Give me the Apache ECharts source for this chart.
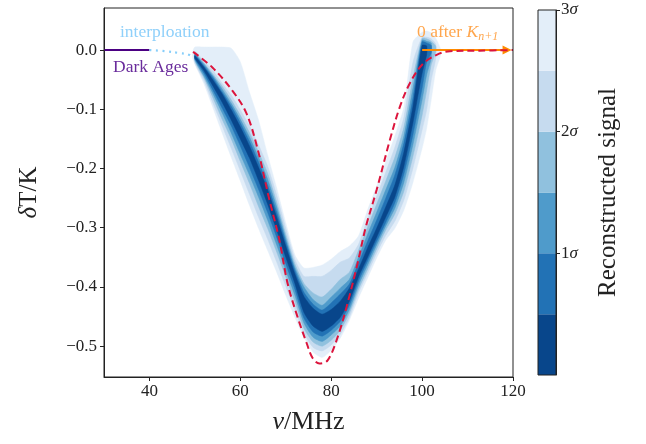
<!DOCTYPE html>
<html>
<head>
<meta charset="utf-8">
<script src="https://cdn.jsdelivr.net/npm/echarts@6.0.0/dist/echarts.min.js"></script>
<style>
  html, body { margin: 0; padding: 0; background: #fff; }
  #main { width: 646px; height: 444px; }
</style>
</head>
<body>
<div id="main"></div>
<script>
// frequency grid (MHz) on which the contour bands are sampled
var xs = [49.5, 50, 52, 54, 56, 58, 60, 62, 64, 66, 68, 70, 72, 74, 76, 78, 80, 82, 84, 86, 88, 90, 92, 94, 96, 98, 100, 101, 102, 103, 104];

// contour bands: upper / lower edge of each level (3 sigma -> 0.5 sigma)
var l6Hi = [-0.003, 0.005, 0.005, 0.005, 0.005, 0.003, -0.020, -0.071, -0.118, -0.177, -0.233, -0.292, -0.346, -0.368, -0.367, -0.363, -0.353, -0.340, -0.331, -0.314, -0.270, -0.230, -0.188, -0.145, -0.096, 0.014, 0.030, 0.032, 0.029, 0.020, 0.003];
var l6Lo = [-0.014, -0.024, -0.057, -0.098, -0.140, -0.181, -0.221, -0.262, -0.301, -0.338, -0.375, -0.414, -0.451, -0.485, -0.510, -0.519, -0.507, -0.486, -0.456, -0.419, -0.385, -0.351, -0.321, -0.301, -0.270, -0.223, -0.166, -0.132, -0.084, -0.034, -0.010];
var l5Hi = [null, -0.002, -0.019, -0.035, -0.056, -0.076, -0.101, -0.128, -0.160, -0.196, -0.245, -0.301, -0.353, -0.382, -0.382, -0.382, -0.372, -0.358, -0.351, -0.328, -0.285, -0.247, -0.206, -0.164, -0.113, -0.020, 0.022, 0.022, 0.019, 0.010, null];
var l5Lo = [null, -0.022, -0.052, -0.090, -0.128, -0.166, -0.204, -0.243, -0.282, -0.319, -0.358, -0.399, -0.438, -0.478, -0.502, -0.508, -0.498, -0.480, -0.451, -0.410, -0.377, -0.343, -0.313, -0.289, -0.253, -0.199, -0.135, -0.101, -0.051, -0.014, null];
var l4Hi = [null, -0.005, -0.022, -0.041, -0.061, -0.084, -0.110, -0.139, -0.172, -0.208, -0.257, -0.311, -0.361, -0.394, -0.410, -0.417, -0.404, -0.387, -0.375, -0.338, -0.299, -0.260, -0.221, -0.181, -0.130, -0.047, 0.020, 0.019, 0.015, 0.007, null];
var l4Lo = [null, -0.019, -0.047, -0.081, -0.117, -0.150, -0.188, -0.225, -0.264, -0.301, -0.341, -0.383, -0.424, -0.470, -0.493, -0.500, -0.490, -0.473, -0.444, -0.404, -0.370, -0.336, -0.304, -0.277, -0.238, -0.179, -0.110, -0.068, -0.025, -0.003, null];
var l3Hi = [null, -0.007, -0.024, -0.044, -0.066, -0.090, -0.117, -0.147, -0.181, -0.218, -0.265, -0.318, -0.367, -0.400, -0.421, -0.431, -0.417, -0.402, -0.387, -0.350, -0.311, -0.274, -0.236, -0.198, -0.145, -0.064, 0.017, 0.015, 0.012, null, null];
var l3Lo = [null, -0.017, -0.044, -0.074, -0.106, -0.140, -0.176, -0.211, -0.248, -0.287, -0.329, -0.372, -0.414, -0.461, -0.485, -0.492, -0.481, -0.466, -0.438, -0.397, -0.363, -0.329, -0.297, -0.267, -0.223, -0.159, -0.084, -0.042, -0.014, null, null];
var l2Hi = [null, -0.008, -0.027, -0.047, -0.071, -0.095, -0.123, -0.154, -0.189, -0.228, -0.274, -0.324, -0.372, -0.409, -0.429, -0.439, -0.427, -0.412, -0.395, -0.360, -0.323, -0.287, -0.250, -0.211, -0.157, -0.081, 0.014, 0.012, 0.008, null, null];
var l2Lo = [null, -0.015, -0.039, -0.068, -0.098, -0.128, -0.162, -0.198, -0.235, -0.274, -0.316, -0.361, -0.404, -0.453, -0.476, -0.483, -0.473, -0.458, -0.431, -0.390, -0.356, -0.323, -0.291, -0.258, -0.209, -0.142, -0.064, -0.020, -0.005, null, null];
var l1Hi = [null, -0.010, -0.029, -0.051, -0.074, -0.101, -0.130, -0.162, -0.198, -0.236, -0.282, -0.331, -0.378, -0.416, -0.436, -0.446, -0.438, -0.424, -0.402, -0.370, -0.334, -0.301, -0.265, -0.228, -0.172, -0.095, 0.008, 0.007, null, null, null];
var l1Lo = [null, -0.014, -0.035, -0.061, -0.088, -0.118, -0.150, -0.182, -0.220, -0.260, -0.304, -0.350, -0.394, -0.443, -0.466, -0.475, -0.466, -0.451, -0.424, -0.383, -0.350, -0.316, -0.282, -0.248, -0.196, -0.122, -0.039, -0.008, null, null, null];

// true signal (red dashed)
var trueX = [49.6, 53.8, 58.2, 61.3, 63.7, 66.4, 68.6, 70.4, 72.6, 74.6, 75.9, 77.4, 79.2, 81.4, 83.6, 85.8, 87.6, 90.0, 92.9, 95.1, 97.3, 100.1, 103.2, 106.1, 112.7, 120];
var trueY = [-0.003, -0.029, -0.068, -0.106, -0.164, -0.253, -0.321, -0.394, -0.451, -0.495, -0.520, -0.529, -0.524, -0.485, -0.427, -0.360, -0.299, -0.236, -0.152, -0.096, -0.056, -0.024, -0.008, -0.002, -0.001, 0];

// dark ages, interpolation, zero after K_{n+1}
var darkX = [30, 40];
var darkY = [0, 0];
var interpX = [40, 43.7, 46.5, 48.7, 49.6];
var interpY = [0, -0.002, -0.005, -0.008, -0.013];
var zeroX = [100, 118.7];
var zeroY = [0, 0];

// tick values
var xTicks = [40, 60, 80, 100, 120];
var yTicks = [-0.5, -0.4, -0.3, -0.2, -0.1, 0];
var cbEdges = [0, 0.5, 1, 1.5, 2, 2.5, 3];
var cbTicks = [1, 2, 3];

var blues = ['#08468b', '#2272b5', '#4f9bcb', '#90c1de', '#c6dbef', '#e3eef9'];
var levels = [
  { hi: l1Hi, lo: l1Lo }, { hi: l2Hi, lo: l2Lo }, { hi: l3Hi, lo: l3Lo },
  { hi: l4Hi, lo: l4Lo }, { hi: l5Hi, lo: l5Lo }, { hi: l6Hi, lo: l6Lo }
];
var serif = 'Liberation Serif';

function zip(a, b) {
  return a.map(function (v, i) { return [v, b[i]]; });
}

//一个填充等值带
function bandSeries(k) {
  var lv = levels[k];
  return {
    type: 'custom',
    silent: true,
    z: 8 - k,
    data: [[xs[1], lv.hi[1]]],
    renderItem: function (params, api) {
      var top = [], bot = [];
      for (var i = 0; i < xs.length; i++) {
        if (lv.hi[i] == null) continue;
        top.push(api.coord([xs[i], lv.hi[i]]));
        bot.push(api.coord([xs[i], lv.lo[i]]));
      }
      return {
        type: 'polygon',
        shape: { points: top.concat(bot.reverse()), smooth: 0.2 },
        style: { fill: blues[k], stroke: blues[k], lineWidth: 0.5 }
      };
    }
  };
}

var series = [];
for (var k = 5; k >= 0; k--) series.push(bandSeries(k));

series.push({
  type: 'line', data: zip(darkX, darkY), symbol: 'none', z: 12,
  lineStyle: { color: '#4b0082', width: 2 }
});
series.push({
  type: 'line', data: zip(interpX, interpY), symbol: 'none', smooth: 0.4, z: 12,
  lineStyle: { color: '#87cefa', width: 2.2, type: [2, 4.5] }
});
series.push({
  type: 'lines', coordinateSystem: 'cartesian2d', z: 12,
  data: [{ coords: zip(zeroX, zeroY) }],
  symbol: ['none', 'triangle'], symbolSize: [8, 9],
  lineStyle: { color: '#ff8c00', width: 2, opacity: 1 }
});
series.push({
  type: 'line', data: zip(trueX, trueY), symbol: 'none', smooth: 0.35, z: 14,
  lineStyle: { color: '#dc143c', width: 2, type: [7, 4] }
});

// colorbar
for (var c = 0; c < 6; c++) {
  series.push({
    type: 'bar', xAxisIndex: 1, yAxisIndex: 1, stack: 'cb', barWidth: '100%',
    silent: true, data: [cbEdges[c + 1] - cbEdges[c]],
    itemStyle: { color: blues[c] }
  });
}

var option = {
  animation: false,
  textStyle: { fontFamily: serif },
  grid: [
    { left: 104, right: 133, top: 8, bottom: 67, show: true, borderColor: '#222', borderWidth: 1, z: 20 },
    { left: 538, right: 90, top: 10, bottom: 69, show: true, borderColor: '#222', borderWidth: 1, z: 20 }
  ],
  xAxis: [
    {
      type: 'value', min: 30, max: 120,
      name: '{i|ν}/MHz', nameLocation: 'middle', nameGap: 32,
      nameTextStyle: { fontFamily: serif, fontSize: 26, color: '#222', rich: { i: { fontStyle: 'italic', fontSize: 26, fontFamily: serif } } },
      axisLine: { onZero: false, lineStyle: { color: '#222' } },
      axisTick: { customValues: xTicks, length: 4, lineStyle: { color: '#222' } },
      axisLabel: { customValues: xTicks, fontSize: 17, color: '#222', margin: 6, fontFamily: serif },
      splitLine: { show: false }
    },
    { type: 'category', gridIndex: 1, data: ['cb'], show: false }
  ],
  yAxis: [
    {
      type: 'value', min: -0.552, max: 0.071,
      name: '{i|δ}T/K', nameLocation: 'middle', nameGap: 62,
      nameTextStyle: { fontFamily: serif, fontSize: 25, color: '#222', rich: { i: { fontStyle: 'italic', fontSize: 25, fontFamily: serif } } },
      axisLine: { show: true, onZero: false, lineStyle: { color: '#222' } },
      axisTick: { show: true, customValues: yTicks, length: 4, lineStyle: { color: '#222' } },
      axisLabel: {
        customValues: yTicks, fontSize: 17, color: '#222', margin: 7, fontFamily: serif,
        formatter: function (v) { return v === 0 ? '0.0' : '\u2212' + Math.abs(v).toFixed(1); }
      },
      splitLine: { show: false }
    },
    {
      type: 'value', gridIndex: 1, min: 0, max: 3, position: 'right',
      name: 'Reconstructed signal', nameLocation: 'middle', nameRotate: 90, nameGap: 40,
      nameTextStyle: { fontFamily: serif, fontSize: 25, color: '#222' },
      axisLine: { show: true, lineStyle: { color: '#222' } },
      axisTick: { show: true, customValues: cbTicks, length: 4, lineStyle: { color: '#222' } },
      axisLabel: {
        customValues: cbTicks, fontSize: 17, color: '#222', margin: 5, fontFamily: serif,
        formatter: function (v) { return v + '{s|σ}'; },
        rich: { s: { fontStyle: 'italic', fontSize: 17, fontFamily: serif } }
      },
      splitLine: { show: false }
    }
  ],
  graphic: [
    { type: 'text', x: 120, y: 23, z: 30, style: { text: 'interploation', fill: '#8fd0fa', fontSize: 17.5, fontFamily: serif } },
    { type: 'text', x: 113, y: 58, z: 30, style: { text: 'Dark Ages', fill: '#6a2c9c', fontSize: 17.5, fontFamily: serif } },
    {
      type: 'text', x: 417, y: 21, z: 30,
      style: {
        text: '0 after {k|K}{s|n+1}', fill: '#ffa64d', fontSize: 17.5, fontFamily: serif,
        rich: {
          k: { fontStyle: 'italic', fontSize: 17.5, fontFamily: serif, fill: '#ffa64d' },
          s: { fontStyle: 'italic', fontSize: 12, fontFamily: serif, fill: '#ffa64d', padding: [10, 0, 0, 0] }
        }
      }
    }
  ],
  series: series
};

var chart = echarts.init(document.getElementById('main'), null, { renderer: 'canvas' });
chart.setOption(option);
</script>
</body>
</html>
